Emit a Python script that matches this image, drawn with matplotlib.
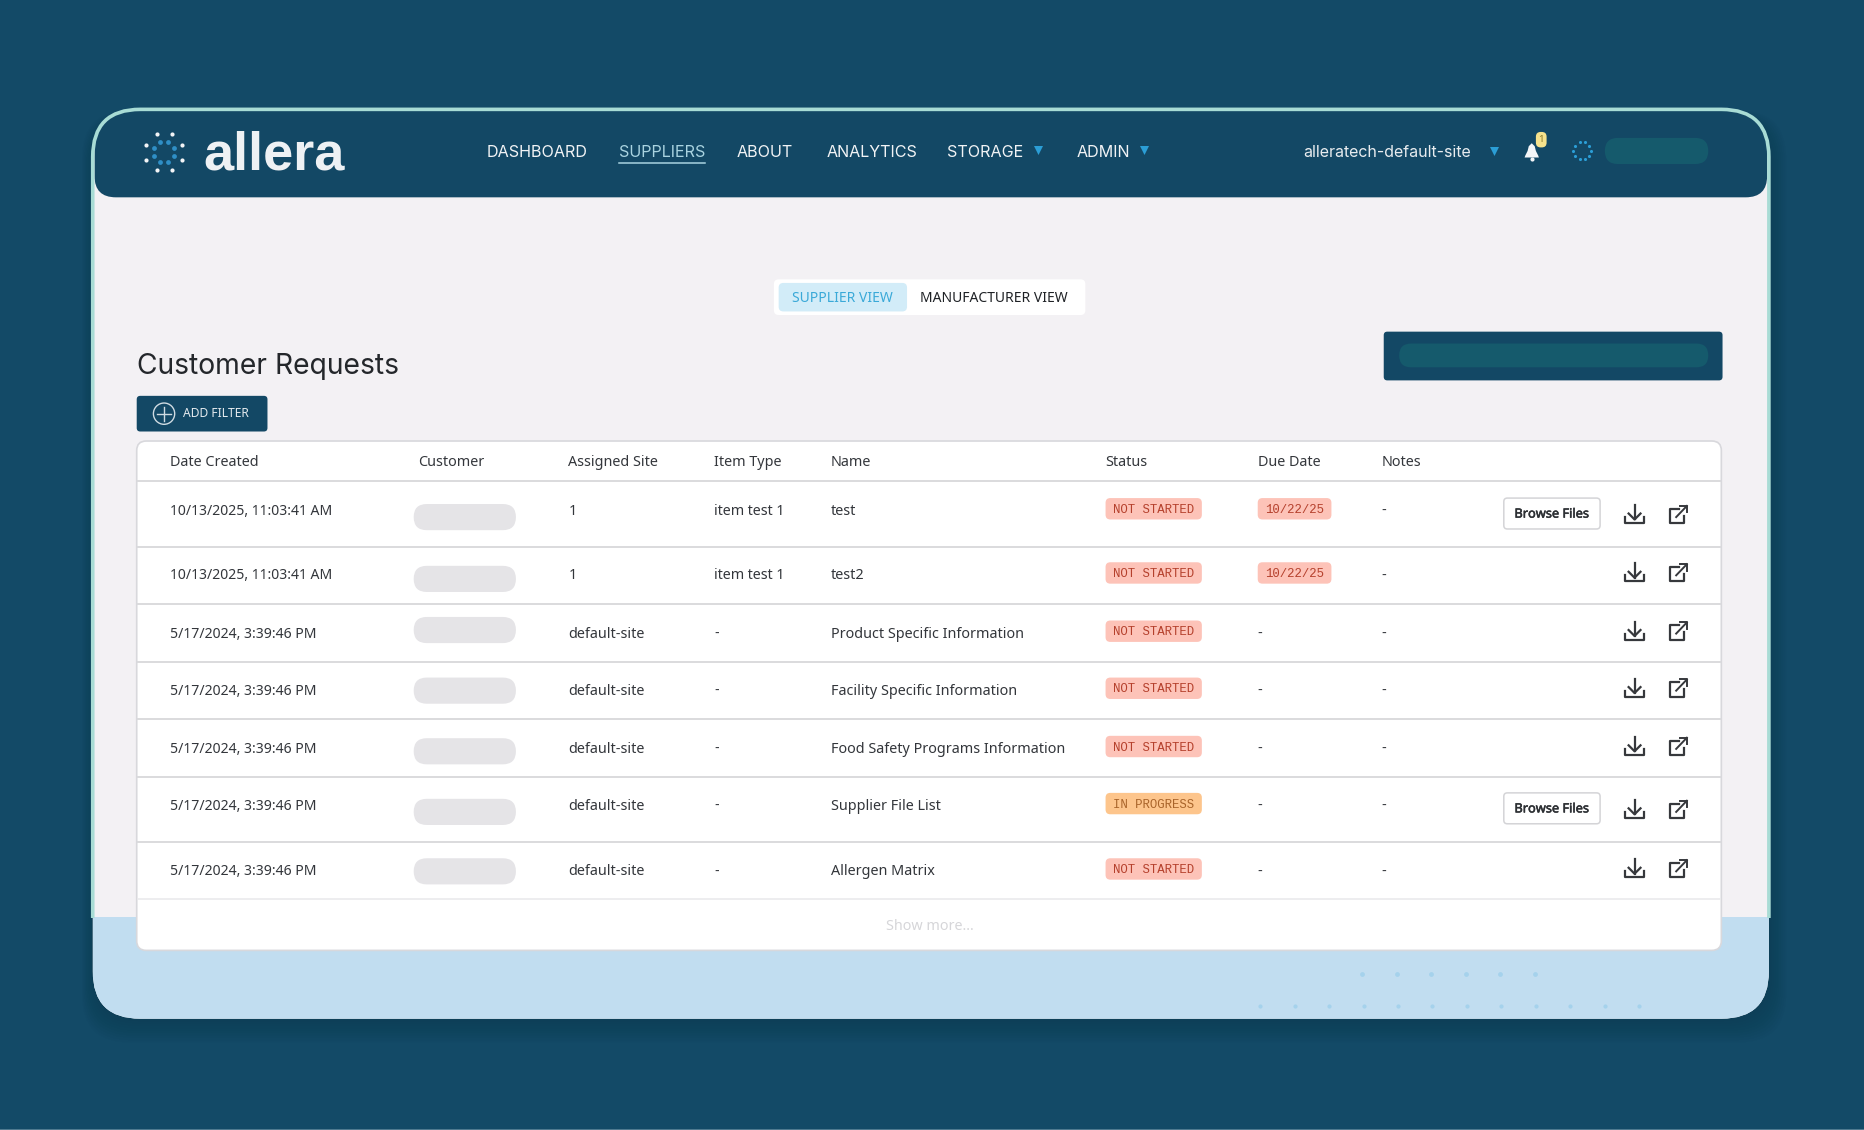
import numpy as np
import matplotlib
matplotlib.use("Agg")
import matplotlib.pyplot as plt
import matplotlib.patheffects as pe
from matplotlib.patches import FancyBboxPatch, Rectangle

# table content
headers = ["Date Created", "Customer", "Assigned Site", "Item Type", "Name", "Status", "Due Date", "Notes"]
dates = ["10/13/2025, 11:03:41 AM", "10/13/2025, 11:03:41 AM", "5/17/2024, 3:39:46 PM", "5/17/2024, 3:39:46 PM",
         "5/17/2024, 3:39:46 PM", "5/17/2024, 3:39:46 PM", "5/17/2024, 3:39:46 PM"]
sites = ["1", "1", "default-site", "default-site", "default-site", "default-site", "default-site"]
item_types = ["item test 1", "item test 1", "-", "-", "-", "-", "-"]
names = ["test", "test2", "Product Specific Information", "Facility Specific Information",
         "Food Safety Programs Information", "Supplier File List", "Allergen Matrix"]
statuses = ["NOT STARTED", "NOT STARTED", "NOT STARTED", "NOT STARTED", "NOT STARTED", "IN PROGRESS", "NOT STARTED"]
due_dates = ["10/22/25", "10/22/25", "-", "-", "-", "-", "-"]
notes = ["-", "-", "-", "-", "-", "-", "-"]
browse = [True, False, False, False, False, True, False]
nav_items = ["DASHBOARD", "SUPPLIERS", "ABOUT", "ANALYTICS", "STORAGE", "ADMIN"]

# layout, in the coordinates of a 1568 wide view
col_x = [143, 352, 478, 601, 699, 930, 1058, 1162]
rule_y = [405, 460, 508, 557, 605, 654, 708, 756]
text_y = [430.5, 484.5, 533.5, 581.5, 630.5, 678.5, 733.5]
pill_y = [435, 487, 530, 581, 632, 683, 733]
badge_y = [428, 482, 531, 579, 628, 676, 731]
icon_y = [433, 482, 531, 579, 628, 681, 731]
nav_x = [409, 521, 620, 695, 797, 906]

NAVY = "#134865"
TEAL = "#155a6c"
BODY = "Noto Sans"
HEAD = "Inter"
MONO = "Liberation Mono"

fig = plt.figure(figsize=(18.64, 11.30), dpi=100, facecolor="#134a67")
ax = fig.add_axes([0, 0, 1, 1])
ax.set_xlim(0, 1568)
ax.set_ylim(950.6, 0)
ax.axis("off")


def box(x0, y0, x1, y1, r, fc, ec="none", lw=0, z=2, alpha=None):
    p = FancyBboxPatch((x0, y0), x1-x0, y1-y0, boxstyle=f"round,pad=0,rounding_size={r}",
                       fc=fc, ec=ec, lw=lw, zorder=z, alpha=alpha)
    ax.add_patch(p)
    return p


def label(x, y, s, size=10.35, color="#33363b", family=BODY, ha="left", weight="normal", z=6):
    return ax.text(x, y, s, fontsize=size, color=color, family=family, ha=ha, va="center", weight=weight, zorder=z)


def ring(cx, cy, radius, n, color, size, z=6, phase=0.0):
    a = np.linspace(0, 2*np.pi, n, endpoint=False) + phase
    ax.scatter(cx + radius*np.cos(a), cy + radius*np.sin(a), s=size, c=color, lw=0, zorder=z)


def download_icon(cx, cy):
    c = "#36383c"
    ax.plot([cx, cx], [cy-8, cy+4], color=c, lw=1.6, zorder=6)
    ax.plot([cx-5, cx, cx+5], [cy-1, cy+4, cy-1], color=c, lw=1.6, zorder=6)
    ax.plot([cx-8, cx-8, cx+8, cx+8], [cy+2, cy+7, cy+7, cy+2], color=c, lw=1.6, zorder=6)


def external_icon(cx, cy):
    c = "#36383c"
    ax.plot([cx, cx-7, cx-7, cx+4.6, cx+4.6], [cy-5, cy-5, cy+7, cy+7, cy+1], color=c, lw=1.6, zorder=6)
    ax.plot([cx-2, cx+7], [cy+2, cy-7.4], color=c, lw=1.4, zorder=6)
    ax.plot([cx+1, cx+7, cx+7], [cy-7.4, cy-7.4, cy-2], color=c, lw=1.4, zorder=6)


# soft card shadow
for i in range(10):
    box(78-i*1.0, 102-i, 1489+i*1.5, 859+i*2.0, 40, "#0d2f44", z=1, alpha=0.04)

# card
card = box(78, 92, 1488, 857, 40, "#f3f1f4", z=2)
low = Rectangle((78, 771), 1410, 90, fc="#c1ddf0", zorder=2.1)
ax.add_patch(low)
low.set_clip_path(card)
head = box(79.5, 60, 1486.5, 166, 18, NAVY, z=2.2)
head.set_clip_path(card)
# light rim that stops where the blue band starts
rim = box(78, 92, 1488, 857, 40, "none", ec="#a8dcd5", lw=2.6, z=2.3)
rim.set_clip_path(Rectangle((60, 80), 1450, 692, transform=ax.transData))

# thin lighter row along the very bottom of the screenshot
ax.add_patch(Rectangle((0, 949.8), 1568, 1, fc="#4f7a90", zorder=1))

# logo
ring(138, 128, 16.5, 8, "#f2f4f6", 9, phase=np.pi/8)
ring(138, 128, 9, 8, "#2f8fc6", 12, phase=np.pi/8)
label(171, 130.5, "allera", size=39, color="#eef1f4", family="Liberation Sans", weight="bold")

# nav bar
for x, s in zip(nav_x, nav_items):
    label(x, 128, s, size=11.6, color="#a9d3e0" if s == "SUPPLIERS" else "#f1f3f5", family=HEAD)
ax.plot([521, 593], [137.5, 137.5], color="#a9d3e0", lw=1.1, zorder=6)
ax.scatter([873, 962, 1257], [126.5, 126.5, 127], marker="v", s=42, c="#2b9ed6", lw=0, zorder=6)
label(1096, 128.5, "alleratech-default-site", size=11.5, color="#e8ecef", family=HEAD)

# bell with its badge
ax.fill([1283, 1285, 1286, 1288.5, 1291, 1292, 1294, 1294.5, 1282.5],
        [131, 127, 123, 120.5, 123, 127, 131, 132.5, 132.5], color="#f4f6f8", lw=0, zorder=6)
ax.scatter([1288.5], [134], s=9, c="#f4f6f8", lw=0, zorder=6)
box(1292, 111, 1301, 124, 4, "#f6e28c", z=7)
label(1296.5, 117.5, "1", size=7, color="#8a7a2a", ha="center", z=8)

# account placeholder
ring(1331, 127, 7.5, 10, "#2b9ed6", 5)
box(1350, 116, 1437, 138, 11, TEAL, z=5)

# view toggle
box(651, 235, 913, 265, 4, "#ffffff", z=3)
box(655, 238, 763, 262, 4, "#d2ecf8", z=4)
label(709, 251, "SUPPLIER VIEW", size=10, color="#3aa9d8", ha="center")
label(836, 251, "MANUFACTURER VIEW", size=10, color="#1e2125", ha="center")

# heading and buttons
label(115, 308, "Customer Requests", size=20.35, color="#24272b", family=HEAD)
box(1164, 279, 1449, 320, 3, NAVY, z=3)
box(1177, 289, 1437, 309, 10, TEAL, z=4)
box(115, 333, 225, 363, 3, NAVY, z=3)
ax.scatter([138], [348], s=235, facecolors="none", edgecolors="#cfdbe2", lw=1, zorder=5)
ax.plot([132, 144], [348, 348], color="#cfdbe2", lw=1, zorder=5)
ax.plot([138, 138], [342, 354], color="#cfdbe2", lw=1, zorder=5)
label(154, 348, "ADD FILTER", size=8.7, color="#e4eaee")

# table
box(115, 371, 1448, 799.5, 8, "#ffffff", ec="#d8d8dc", lw=1.2, z=3)
for i, y in enumerate(rule_y):
    ax.plot([116, 1447], [y, y], color="#eaeaec" if i == 7 else "#d4d4d7", lw=1.2, zorder=4)

for x, s in zip(col_x, headers):
    label(x, 389, s, color="#34373c")

for i in range(len(dates)):
    y = text_y[i]
    label(col_x[0], y, dates[i], size=10.1)
    box(348, pill_y[i]-11, 434, pill_y[i]+11, 11, "#e5e4e7", z=5)
    label(col_x[2], y, sites[i])
    label(col_x[3], y, item_types[i], size=10.2)
    label(col_x[4], y, names[i])
    # status badge
    if statuses[i] == "IN PROGRESS":
        fc, tc = "#fdc58c", "#a9642a"
    else:
        fc, tc = "#fdc3b8", "#b5402c"
    box(930, badge_y[i]-9, 1011, badge_y[i]+9, 4, fc, z=5)
    label(970.5, badge_y[i]+1, statuses[i], size=8.9, color=tc, family=MONO, ha="center")
    if due_dates[i] == "-":
        label(col_x[6], y, "-")
    else:
        box(1058, badge_y[i]-9, 1120, badge_y[i]+9, 4, "#fdc3b8", z=5)
        label(1089, badge_y[i]+1, due_dates[i], size=8.9, color="#b5402c", family=MONO, ha="center")
    label(col_x[7], y, notes[i])
    if browse[i]:
        box(1265, icon_y[i]-14, 1346, icon_y[i]+12, 3, "#ffffff", ec="#d4d4d7", lw=1.1, z=5)
        t = label(1305.5, icon_y[i]-0.5, "Browse Files", size=9.2, color="#2d3034", ha="center")
        t.set_path_effects([pe.withStroke(linewidth=0.4, foreground="#2d3034")])
    download_icon(1375, icon_y[i])
    external_icon(1412, icon_y[i])

label(782, 779.5, "Show more...", color="#d6d6d9", ha="center")

# faint dots on the blue band
dots_a = np.arange(1146, 1292, 29)
dots_b = np.arange(1060, 1380, 29)
ax.scatter(dots_a, np.full(len(dots_a), 819), s=12, c="#a5d2ec", lw=0, zorder=3)
ax.scatter(dots_b, np.full(len(dots_b), 846), s=9, c="#a5d2ec", lw=0, zorder=3)

fig.savefig("out.png", dpi=100, facecolor=fig.get_facecolor())
